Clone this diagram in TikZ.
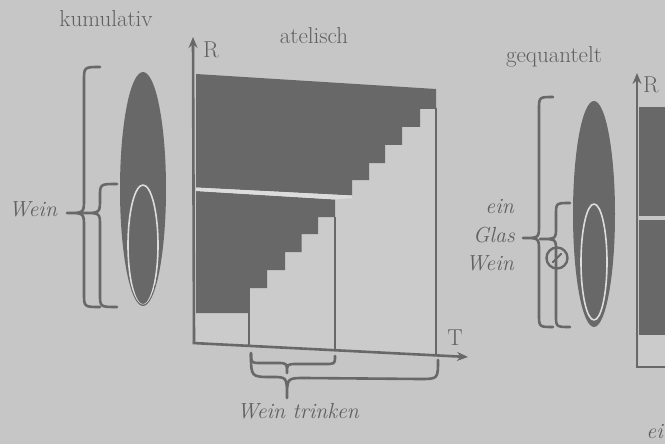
\documentclass[tikz,border=0pt]{standalone}
\usetikzlibrary{arrows.meta}
\definecolor{bg}{HTML}{C6C6C6}
\definecolor{ink}{HTML}{686868}
\definecolor{lite}{HTML}{CBCBCB}
\definecolor{gap}{HTML}{DCDCDC}
\definecolor{txt}{HTML}{606060}
\begin{document}
\begin{tikzpicture}[x=1pt,y=-1pt,line join=round,
  axisline/.style={draw=ink,line width=2.6pt},
  arrowaxis/.style={axisline,-{Stealth[length=11pt,width=9pt]}},
  bracestroke/.style={draw=ink,line width=2.6pt,line cap=round},
  darkfill/.style={fill=ink},
  litefill/.style={fill=lite},
  innerring/.style={draw=gap,line width=1.6pt},
  lab/.style={text=txt,font=\fontsize{23}{27}\selectfont,inner sep=0pt},
  ilab/.style={text=txt,font=\fontsize{21.8}{26}\selectfont\itshape,inner sep=0pt}]
\fill[bg] (0,0) rectangle (665,444);
\useasboundingbox (0,0) rectangle (665,444);

% ---------- titles ----------
\node[lab,anchor=base] (kum) at (106,27) {kumulativ};
\node[lab,anchor=base] (ate) at (314,44) {atelisch};
\node[lab,anchor=base] (geq) at (554,63) {gequantelt};

% ---------- left ellipse (kumulativ) ----------
\fill[ink] (143,189) ellipse [x radius=23,y radius=117];
\begin{scope}
  \clip (143,189) ellipse [x radius=21.5,y radius=115.5];
  \draw[innerring] (143,245) ellipse [x radius=15,y radius=60];
\end{scope}
% braces left
\draw[bracestroke] (100,67) .. controls (84,67) .. (84,81) -- (84,199)
  .. controls (84,213) .. (67,213) .. controls (84,213) .. (84,227)
  -- (84,293) .. controls (84,307) .. (100,307);
\draw[bracestroke] (117,184) .. controls (100,184) .. (100,197) -- (100,199)
  .. controls (100,213) .. (83,213) .. controls (100,213) .. (100,226)
  -- (100,294) .. controls (100,307) .. (117,307);
\node[ilab,anchor=base] (weinL) at (33,216) {Wein};

% ---------- main chart (atelisch) ----------
\fill[litefill] (196,74) -- (436,89) -- (436,355) -- (196,343) -- cycle;
\fill[darkfill] (196,74) -- (436,89) -- (436,109) -- (420,109) -- (420,127)
  -- (402,127) -- (402,145) -- (385,145) -- (385,163) -- (369,163)
  -- (369,180) -- (352,180) -- (352,195.5) -- (196,187.5) -- cycle;
\fill[darkfill] (196,191) -- (335,199.5) -- (335,217) -- (318,217) -- (318,234)
  -- (301.5,234) -- (301.5,252) -- (285,252) -- (285,270) -- (267,270)
  -- (267,288) -- (249,288) -- (249,313) -- (196,313) -- cycle;
\fill[gap] (196,187.5) -- (352,195.5) -- (352,198) -- (335,199.5) -- (196,191) -- cycle;

\coordinate (O) at (194,343);
\coordinate (Rtop) at (193,37);
\coordinate (Tend) at (468,357);
\draw[arrowaxis] (O) -- (Rtop);
\draw[arrowaxis] ([xshift=-1.3pt]O) -- (Tend);
\node[lab,anchor=center] (Rlab) at (211,50) {R};
\node[lab,anchor=center] (Tlab) at (455,338) {T};

\coordinate (v1t) at (249,288); \coordinate (v1b) at (249,346);
\coordinate (v2t) at (335,217); \coordinate (v2b) at (335,350.5);
\coordinate (v3t) at (436,108); \coordinate (v3b) at (436,355.5);
\draw[axisline] (v1t) -- (v1b);
\draw[axisline] (v2t) -- (v2b);
\draw[axisline] (v3t) -- (v3b);

% braces below
\draw[bracestroke] (251,353) .. controls (251,363) .. (261,363) -- (277,363)
  .. controls (287,363) .. (287,373) .. controls (287,364) .. (297,364)
  -- (325,364) .. controls (335,364) .. (335,356);
\draw[bracestroke] (251,354) .. controls (251,377) .. (272,377)
  .. controls (287,377) .. (287,398) .. controls (287,378) .. (305,378)
  -- (420,379) .. controls (438,379) .. (438,360);
\node[ilab,anchor=base] (wt) at (298,418) {Wein trinken};

% ---------- right ellipse (gequantelt) ----------
\fill[ink] (594,214) ellipse [x radius=21,y radius=113];
\begin{scope}
  \clip (594,214) ellipse [x radius=19.5,y radius=111.5];
  \draw[innerring] (594,262) ellipse [x radius=13,y radius=58];
\end{scope}
\draw[bracestroke] (553,97) .. controls (539,97) .. (539,110) -- (539,225)
  .. controls (539,238) .. (523,238) .. controls (539,238) .. (539,251)
  -- (539,314) .. controls (539,327) .. (553,327);
\draw[bracestroke] (570,203) .. controls (556,203) .. (556,215) -- (556,227)
  .. controls (556,239) .. (540,239) .. controls (556,239) .. (556,251)
  -- (556,315) .. controls (556,327) .. (570,327);
\node[draw=ink,line width=2.4pt,circle,minimum size=21pt,inner sep=0pt] (ring) at (557,258) {};
\draw[bracestroke,line width=2pt] (ring.south west) ++(4,-4) -- ([xshift=-4pt,yshift=-4pt]ring.north east);
\node[ilab,anchor=base east] (ein) at (514,213) {ein};
\node[ilab,anchor=base east] (glas) at (515,242) {Glas};
\node[ilab,anchor=base east] (weinR) at (514,270) {Wein};

% ---------- right partial chart ----------
\fill[litefill] (639,335) rectangle (666,366);
\fill[darkfill] (639,107) rectangle (666,216);
\fill[darkfill] (639,220) rectangle (666,335);
\coordinate (O2) at (637,367);
\coordinate (R2top) at (637,73);
\coordinate (T2end) at (668,367);
\draw[arrowaxis] (O2) -- (R2top);
\draw[axisline] ([xshift=-1.3pt]O2) -- (T2end);
\node[lab,anchor=center] (R2lab) at (651,85) {R};
\node[ilab,anchor=base east] (ei) at (663,438) {ei};
\end{tikzpicture}
\end{document}
